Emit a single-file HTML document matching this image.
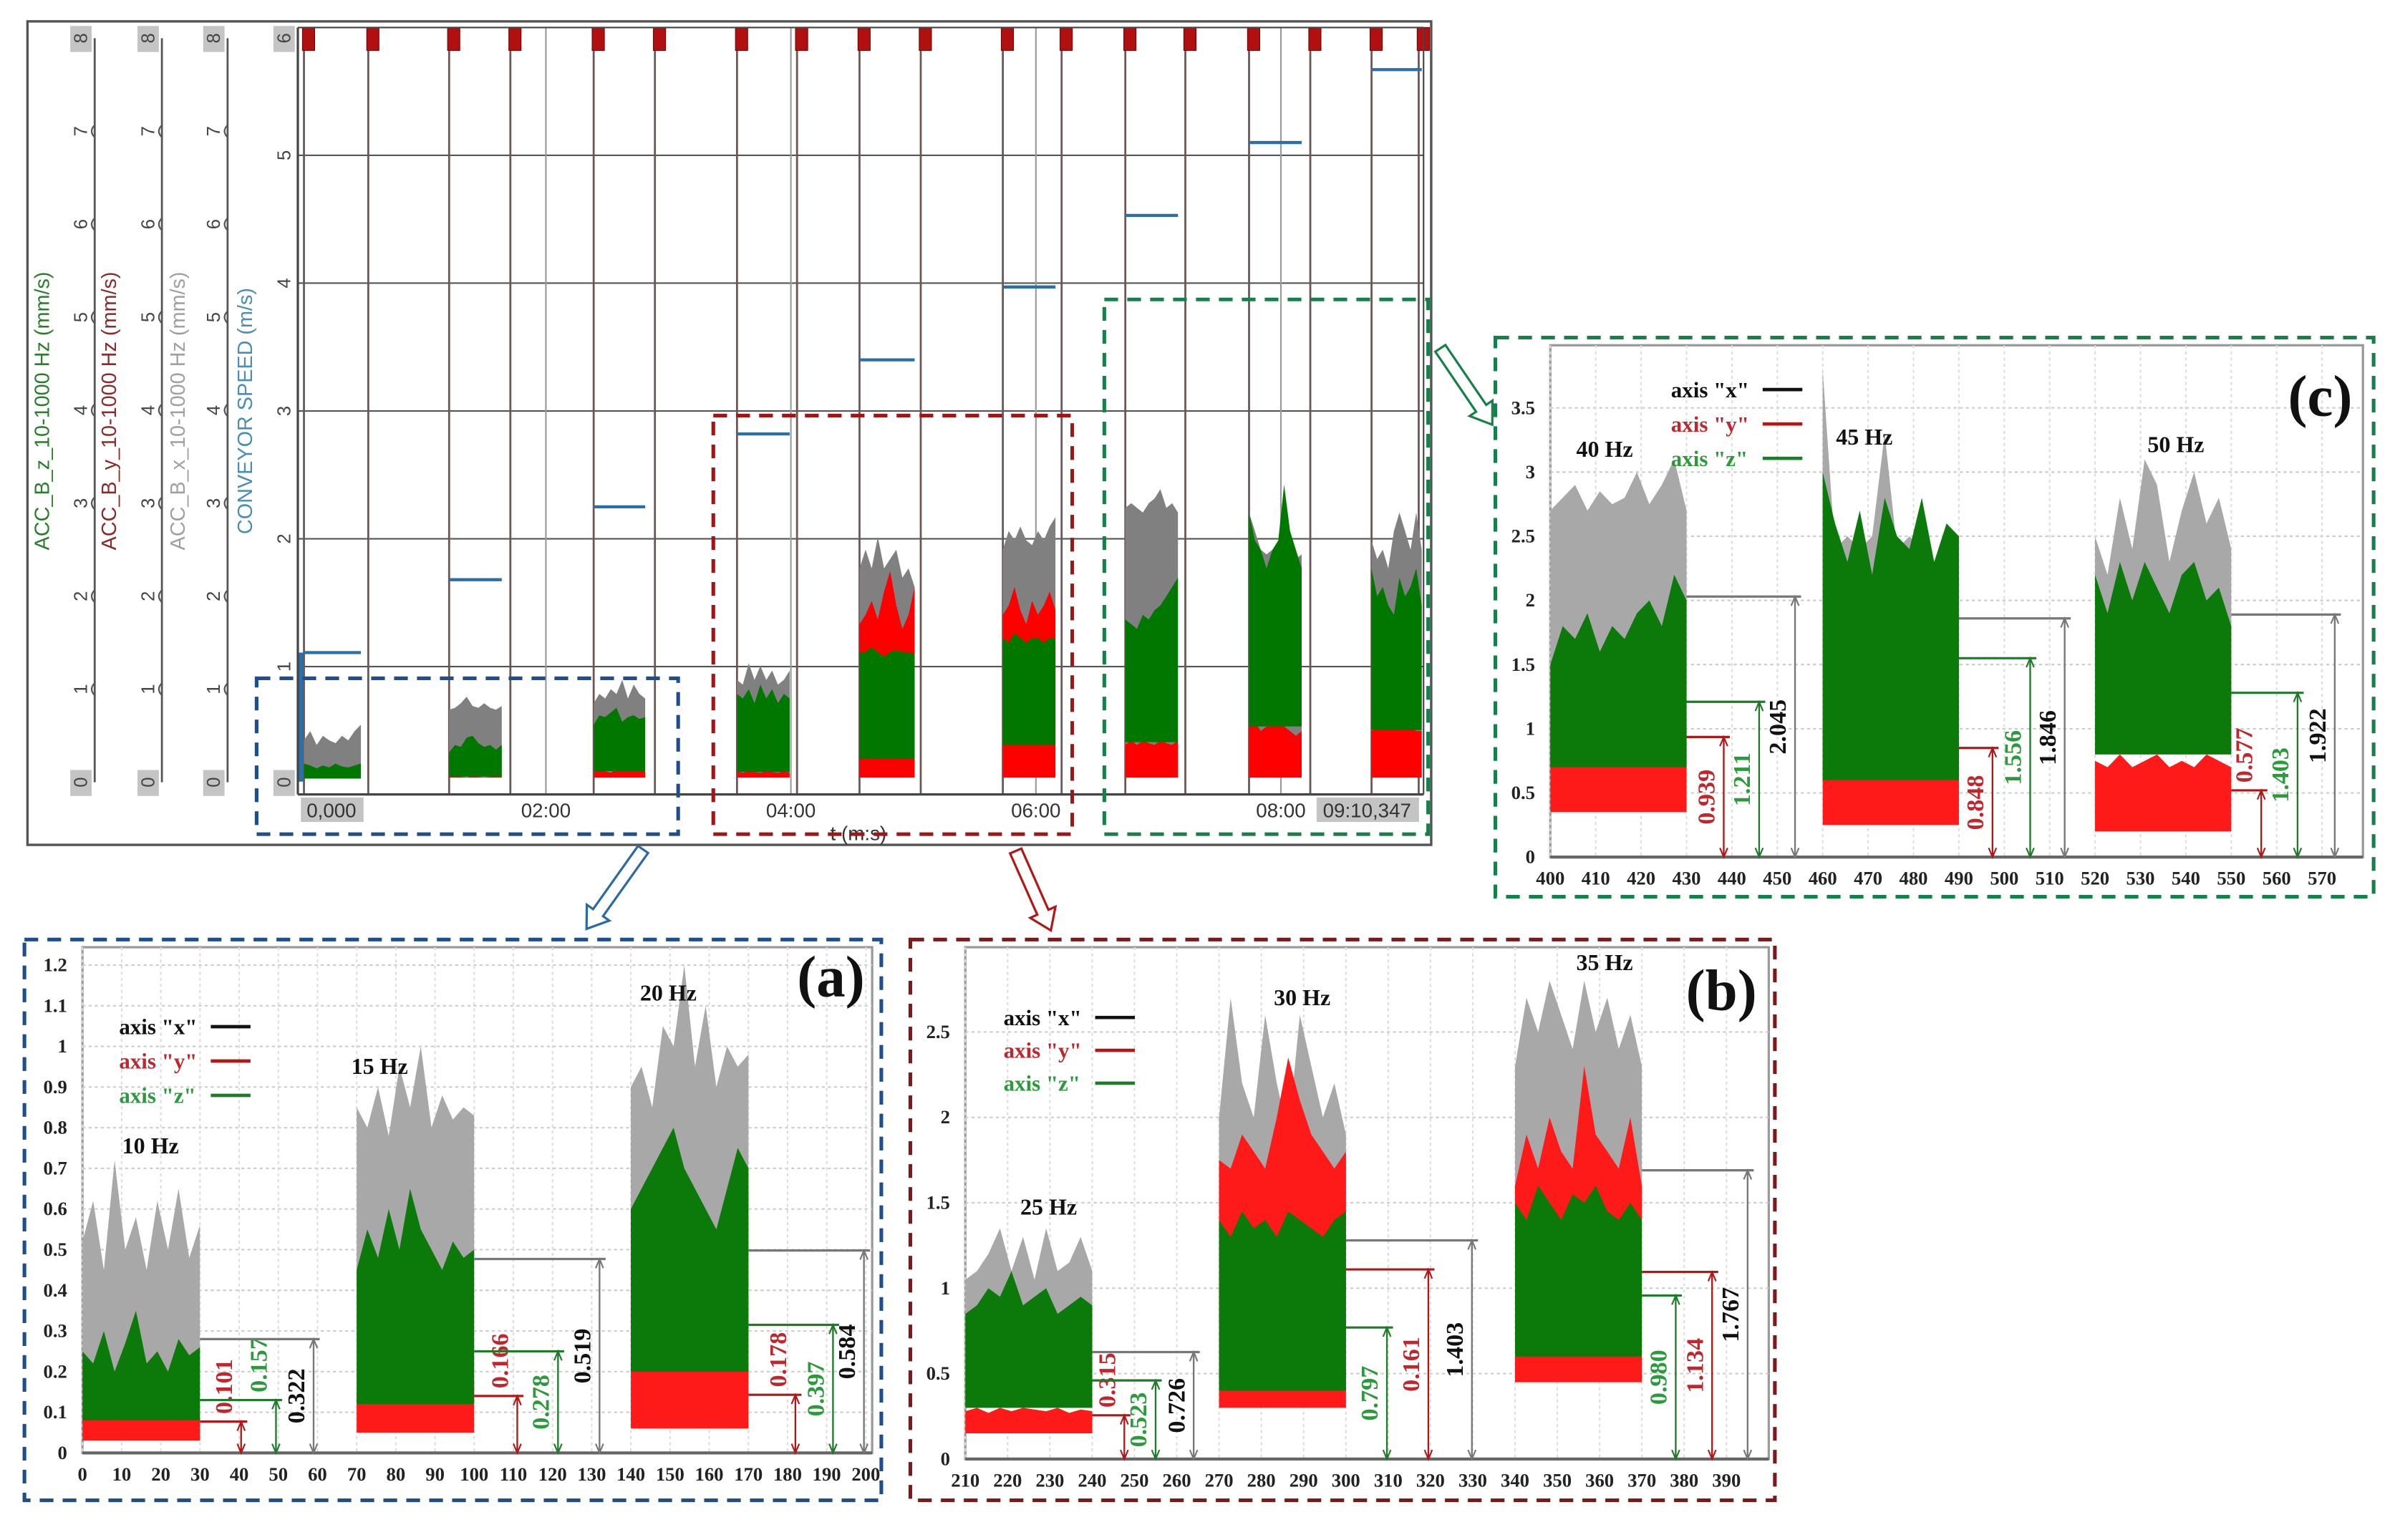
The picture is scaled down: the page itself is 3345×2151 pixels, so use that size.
<!DOCTYPE html>
<html><head><meta charset="utf-8">
<style>
html,body{margin:0;padding:0;background:#fff;}
svg{display:block;}
</style></head>
<body>
<svg id="fig" xmlns="http://www.w3.org/2000/svg" width="3345" height="2151" viewBox="0 0 1568 1008" preserveAspectRatio="none">
<rect x="0" y="0" width="1568" height="1008" fill="#fff"/>
<g id="main"></g>
<g id="pa"></g>
<g id="pb"></g>
<g id="pc"></g>
<g id="arrows"></g>
</svg>
<script>
// ===== MAIN CHART DATA (time in minutes) =====
const mainMarkerTimes = [0.025,0.55,1.21,1.71,2.39,2.89,3.56,4.05,4.56,5.06,5.73,6.21,6.73,7.22,7.74,8.24,8.74,9.125];
const mainSegStart = [0.025,1.21,2.39,3.56,4.56,5.73,6.73,7.74,8.74];
const mainSegEnd   = [0.49,1.64,2.81,3.99,5.01,6.16,7.16,8.17,9.15];
const mainSpeed = [1.11,1.68,2.25,2.82,3.40,3.97,4.53,5.10,5.67];
const mainTimeTicks = [2,4,6,8];
const mainTimeLabels = ["02:00","04:00","06:00","08:00"];
const mainSpeedTicks = [0,1,2,3,4,5,6];
const mainAccTicks = [0,1,2,3,4,5,6,7,8];
const mainXTop = [
 [0.45,0.55,0.4,0.5,0.45,0.42,0.5,0.45,0.55,0.62],
 [0.78,0.8,0.85,0.92,0.82,0.8,0.85,0.8,0.78,0.82],
 [0.85,0.95,0.9,1.0,0.95,1.1,0.9,1.05,0.95,0.9],
 [1.1,1.05,1.28,1.1,1.25,1.1,1.2,1.05,1.1,1.2],
 [2.3,2.5,2.3,2.64,2.3,2.4,2.5,2.2,2.3,2.1],
 [2.5,2.7,2.6,2.75,2.6,2.55,2.7,2.6,2.75,2.85],
 [2.95,3.0,2.95,2.9,3.0,3.05,3.15,2.95,3.0,2.9],
 [2.9,2.7,2.5,2.45,2.5,2.5,2.6,2.45,2.4,2.45],
 [2.6,2.4,2.5,2.3,2.7,2.9,2.7,2.5,2.9,2.5]];
const mainYTop = [
 [0.04,0.05,0.04,0.05,0.04,0.05,0.04,0.05,0.04,0.05],
 [0.06,0.07,0.06,0.05,0.07,0.06,0.05,0.06,0.07,0.06],
 [0.12,0.14,0.12,0.1,0.15,0.12,0.13,0.12,0.14,0.12],
 [0.12,0.1,0.12,0.11,0.1,0.12,0.11,0.1,0.12,0.1],
 [1.7,1.8,1.95,1.75,2.05,2.27,1.9,1.65,1.8,2.1],
 [1.8,1.9,2.1,1.85,1.7,1.95,1.8,1.9,2.05,1.85],
 [0.4,0.45,0.4,0.45,0.42,0.4,0.45,0.42,0.4,0.45],
 [0.6,0.65,0.55,0.6,0.6,0.7,0.6,0.55,0.5,0.55],
 [0.55,0.6,0.58,0.6,0.6,0.58,0.6,0.6,0.55,0.55]];
const mainZTop = [
 [0.2,0.18,0.15,0.18,0.16,0.2,0.17,0.16,0.18,0.2],
 [0.32,0.4,0.38,0.48,0.5,0.42,0.38,0.4,0.35,0.4],
 [0.62,0.72,0.7,0.75,0.8,0.65,0.7,0.72,0.68,0.7],
 [0.95,0.9,1.0,0.85,1.05,0.9,1.0,0.85,0.95,0.9],
 [1.4,1.4,1.45,1.4,1.35,1.4,1.42,1.4,1.4,1.38],
 [1.55,1.5,1.6,1.55,1.5,1.55,1.55,1.5,1.55,1.55],
 [1.75,1.7,1.65,1.8,1.75,1.85,1.9,2.0,2.1,2.2],
 [2.9,2.6,2.5,2.3,2.5,2.6,3.2,2.7,2.5,2.3],
 [2.3,2.0,2.1,1.9,1.8,2.2,2.0,2.1,2.3,1.9]];
const mainZBot = [0.04,0.06,0.12,0.11,0.25,0.4,0.43,0.6,0.56];

// ===== PANEL DATA =====
const aSegStart=[0,70,140], aSegEnd=[30,100,170];
const aXTop=[[0.52,0.62,0.45,0.72,0.5,0.58,0.45,0.62,0.5,0.65,0.48,0.56],[0.85,0.8,0.9,0.78,0.95,0.85,1.0,0.8,0.88,0.82,0.85,0.83],[0.9,0.95,0.85,1.05,1.0,1.2,0.95,1.1,0.9,1.0,0.95,0.98]];
const aZTop=[[0.25,0.22,0.3,0.2,0.27,0.35,0.22,0.25,0.2,0.28,0.24,0.26],[0.45,0.55,0.48,0.6,0.5,0.65,0.55,0.5,0.45,0.52,0.48,0.5],[0.6,0.65,0.7,0.75,0.8,0.7,0.65,0.6,0.55,0.65,0.75,0.7]];
const aYTop=[[0.09,0.08,0.1,0.08,0.09,0.08,0.09,0.1,0.08,0.09,0.08,0.09],[0.15,0.17,0.14,0.16,0.18,0.15,0.14,0.17,0.15,0.16,0.14,0.18],[0.22,0.25,0.2,0.27,0.22,0.24,0.2,0.22,0.23,0.2,0.22,0.22]];
const aZBot=[0.08,0.12,0.2], aYBot=[0.03,0.05,0.06];
const aAnnH=[0.077,0.13,0.28,0.14,0.25,0.477,0.143,0.315,0.498];
const aAnnX=[40.5,49.4,59,111,121.4,132,182,191.6,199.5];
const aAnnAxis=["y","z","x","y","z","x","y","z","x"];
const aAnnLbl=["0.101","0.157","0.322","0.166","0.278","0.519","0.178","0.397","0.584"];
const aYTicks=[0,0.1,0.2,0.3,0.4,0.5,0.6,0.7,0.8,0.9,1,1.1,1.2];
const aXTicks=[0,10,20,30,40,50,60,70,80,90,100,110,120,130,140,150,160,170,180,190,200];
const aFreq=["10 Hz","15 Hz","20 Hz"];

const bSegStart=[210,270,340], bSegEnd=[240,300,370];
const bXTop=[[1.05,1.1,1.2,1.35,1.1,1.3,1.05,1.35,1.1,1.15,1.3,1.1],[2.0,2.7,2.2,2.0,2.6,2.2,1.9,2.6,2.3,2.0,2.2,1.9],[2.3,2.7,2.5,2.8,2.6,2.4,2.8,2.5,2.7,2.4,2.6,2.3]];
const bYTop=[[0.28,0.3,0.27,0.3,0.28,0.3,0.29,0.28,0.3,0.27,0.29,0.28],[1.75,1.7,1.9,1.8,1.7,2.0,2.35,2.1,1.9,1.8,1.7,1.8],[1.6,1.9,1.7,2.0,1.8,1.7,2.3,1.9,1.8,1.7,2.0,1.6]];
const bZTop=[[0.85,0.9,1.0,0.95,1.1,0.9,0.95,1.0,0.85,0.9,0.95,0.9],[1.4,1.3,1.45,1.35,1.4,1.3,1.45,1.4,1.35,1.3,1.4,1.45],[1.5,1.4,1.6,1.5,1.4,1.55,1.5,1.6,1.45,1.4,1.5,1.4]];
const bZBot=[0.3,0.4,0.6], bYBot=[0.15,0.3,0.45];
const bAnnH=[0.256,0.46,0.626,0.77,1.11,1.28,0.957,1.095,1.69];
const bAnnX=[247.6,255,264,309.7,319.5,329.8,378,386.6,395];
const bAnnAxis=["y","z","x","z","y","x","z","y","x"];
const bAnnLbl=["0.315","0.523","0.726","0.797","0.161","1.403","0.980","1.134","1.767"];
const bYTicks=[0,0.5,1,1.5,2,2.5];
const bXTicks=[210,220,230,240,250,260,270,280,290,300,310,320,330,340,350,360,370,380,390];
const bFreq=["25 Hz","30 Hz","35 Hz"];

const cSegStart=[400,460,520], cSegEnd=[430,490,550];
const cXTop=[[2.7,2.8,2.9,2.7,2.85,2.75,2.8,3.0,2.75,2.9,3.1,2.7],[3.8,2.4,2.5,2.4,2.5,3.3,2.4,2.5,2.4,2.3,2.5,2.4],[2.5,2.2,2.8,2.4,3.1,2.9,2.3,2.7,3.0,2.6,2.8,2.4]];
const cZTop=[[1.5,1.8,1.7,1.9,1.6,1.8,1.7,1.9,2.0,1.8,2.2,2.0],[3.0,2.6,2.3,2.7,2.2,2.8,2.5,2.4,2.8,2.3,2.6,2.5],[2.2,1.9,2.3,2.0,2.3,2.1,1.9,2.2,2.3,2.0,2.1,1.8]];
const cYTop=[[1.0,0.9,0.95,0.9,1.0,0.9,0.95,0.9,1.0,0.95,0.9,1.0],[1.0,0.9,1.1,1.0,0.9,1.0,1.1,0.9,1.0,0.95,1.0,0.9],[0.75,0.7,0.8,0.7,0.75,0.8,0.7,0.75,0.7,0.8,0.75,0.7]];
const cZBot=[0.7,0.6,0.8], cYBot=[0.35,0.25,0.2];
const cAnnH=[0.936,1.21,2.03,0.85,1.55,1.86,0.52,1.28,1.89];
const cAnnX=[438.2,446,453.9,497.4,505.7,513.3,556.6,564.6,572.8];
const cAnnAxis=["y","z","x","y","z","x","y","z","x"];
const cAnnLbl=["0.939","1.211","2.045","0.848","1.556","1.846","0.577","1.403","1.922"];
const cYTicks=[0,0.5,1,1.5,2,2.5,3,3.5];
const cXTicks=[400,410,420,430,440,450,460,470,480,490,500,510,520,530,540,550,560,570];
const cFreq=["40 Hz","45 Hz","50 Hz"];

const NS="http://www.w3.org/2000/svg";
function mk(parent,tag,attrs,text){const e=document.createElementNS(NS,tag);for(const k in attrs)e.setAttribute(k,attrs[k]);if(text!==undefined)e.textContent=text;parent.appendChild(e);return e;}
function envPts(xs,xe,top,botV,fx,fy){let p=[];const n=top.length;for(let i=0;i<n;i++){p.push(fx(xs+i*(xe-xs)/(n-1)).toFixed(1)+","+fy(top[i]).toFixed(1));}p.push(fx(xe).toFixed(1)+","+fy(botV).toFixed(1));p.push(fx(xs).toFixed(1)+","+fy(botV).toFixed(1));return p.join(" ");}

// ===== MAIN =====
(function(){
const g=document.getElementById('main');
const xM=t=>197+t*80.2, yS=v=>520-v*83.67, yA=v=>512-v*60.875;
let e=mk(g,'rect',{x:18,y:14,width:919,height:539,fill:'#fff',stroke:'#555','stroke-width':1.6});

// horizontal grid
mainSpeedTicks.forEach(v=>{if(v>0&&v<6){const l=mk(g,'line',{x1:195,x2:932,y1:yS(v),y2:yS(v),stroke:'#555','stroke-width':1});
}});
// time gridlines (light)
mainTimeTicks.forEach(t=>{const l=mk(g,'line',{x1:xM(t),x2:xM(t),y1:18,y2:520,stroke:'#999','stroke-width':1});
});
// marker lines
mainMarkerTimes.forEach(t=>{const l=mk(g,'line',{x1:xM(t),x2:xM(t),y1:18,y2:520,stroke:'#6e5555','stroke-width':1.3});

const r=mk(g,'rect',{x:xM(t)-1,y:18,width:8,height:15,fill:'#b01010',stroke:'#700','stroke-width':0.5});
});
// bands
for(let i=0;i<mainSegStart.length;i++){
 const s=mainSegStart[i],en=mainSegEnd[i];
 let p=mk(g,'polygon',{points:envPts(s,en,mainXTop[i],0.05,xM,yA),fill:'#808080'});
 
 p=mk(g,'polygon',{points:envPts(s,en,mainYTop[i],0.05,xM,yA),fill:'#ff0000'});
 
 p=mk(g,'polygon',{points:envPts(s,en,mainZTop[i],mainZBot[i],xM,yA),fill:'#007800'});
 
 const l=mk(g,'line',{x1:xM(s),x2:xM(en),y1:yS(mainSpeed[i]),y2:yS(mainSpeed[i]),stroke:'#2a6fa8','stroke-width':2});
 
}
const sp=mk(g,'line',{x1:197,x2:197,y1:yS(0.1),y2:yS(1.11),stroke:'#2a6fa8','stroke-width':3});

// plot border
e=mk(g,'line',{x1:195,x2:932,y1:520,y2:520,stroke:'#444','stroke-width':1.5});
e=mk(g,'line',{x1:195,x2:195,y1:18,y2:520,stroke:'#444','stroke-width':1.5});
e=mk(g,'line',{x1:195,x2:932,y1:18,y2:18,stroke:'#444','stroke-width':1});
e=mk(g,'line',{x1:932,x2:932,y1:18,y2:520,stroke:'#444','stroke-width':1});
// acc axes
const axX=[62,106,149];
axX.forEach((ax,k)=>{
 const l=mk(g,'line',{x1:ax,x2:ax,y1:yA(8),y2:yA(0),stroke:'#555','stroke-width':1.3});
 
 mainAccTicks.forEach(v=>{
  const y=yA(v),tx=ax-9;
  if(v===0||v===8){const b=mk(g,'rect',{x:tx-7,y:y-8,width:14,height:17,fill:'#c4c4c4'});}
  else{const t=mk(g,'path',{d:`M${ax} ${y-4} q-4 4 0 8`,stroke:'#555',fill:'none','stroke-width':1});}
  const tt=mk(g,'text',{x:tx+4,y:y,transform:`rotate(-90 ${tx+4} ${y})`,'text-anchor':'middle','font-family':'Liberation Sans, sans-serif','font-size':12,fill:'#444'},String(v));
  
 });
});
mainSpeedTicks.forEach(v=>{
 const y=v===0?yA(0):(v===6?yA(8):yS(v)),tx=186;
 if(v===0||v===6){const b=mk(g,'rect',{x:tx-7,y:y-8,width:14,height:17,fill:'#c4c4c4'});}
 const tt=mk(g,'text',{x:tx+4,y:y,transform:`rotate(-90 ${tx+4} ${y})`,'text-anchor':'middle','font-family':'Liberation Sans, sans-serif','font-size':12,fill:'#444'},String(v));
 
});
const titles=[["ACC_B_z_10-1000 Hz (mm/s)",32,'#2a7d2a','z-axis-title'],["ACC_B_y_10-1000 Hz (mm/s)",76,'#8b2a2a','y-axis-title'],["ACC_B_x_10-1000 Hz (mm/s)",121,'#a0a0a0','x-axis-title'],["CONVEYOR SPEED (m/s)",165,'#4a8eb5','speed-axis-title']];
titles.forEach(t=>{const tt=mk(g,'text',{x:t[1],y:269,transform:`rotate(-90 ${t[1]} 269)`,'text-anchor':'middle','font-family':'Liberation Sans, sans-serif','font-size':13.5,fill:t[2]},t[0]);
 });
// time labels
mainTimeTicks.forEach((t,i)=>{const tt=mk(g,'text',{x:xM(t),y:535,'text-anchor':'middle','font-family':'Liberation Sans, sans-serif','font-size':13,fill:'#333'},mainTimeLabels[i]);
 });
e=mk(g,'rect',{x:197,y:522,width:41,height:16,fill:'#c4c4c4'});
e=mk(g,'text',{x:217,y:535,'text-anchor':'middle','font-family':'Liberation Sans, sans-serif','font-size':13,fill:'#333'},"0,000");
e=mk(g,'rect',{x:862,y:522,width:67,height:16,fill:'#c4c4c4'});
e=mk(g,'text',{x:895,y:535,'text-anchor':'middle','font-family':'Liberation Sans, sans-serif','font-size':13,fill:'#333'},"09:10,347");
e=mk(g,'text',{x:562,y:550,'text-anchor':'middle','font-family':'Liberation Sans, sans-serif','font-size':13,fill:'#333'},"t (m:s)");
// dashed boxes
[[168,444,444,546,'#1f4e8c','zoom-box-a'],[467,272,702,546,'#a01515','zoom-box-b'],[723,196,935,546,'#16804a','zoom-box-c']].forEach(b=>{
 const r=mk(g,'rect',{x:b[0],y:b[1],width:b[2]-b[0],height:b[3]-b[1],fill:'none',stroke:b[4],'stroke-width':2.4,'stroke-dasharray':'9 6'});
 });
})();

// ===== PANELS =====
function panel(id,box,plot,dx,dy,segS,segE,xT,yT,zT,zB,yB,annH,annX,annAxis,annLbl,yTicks,xTicks,freq,freqPos,legPos,letter,letterPos,boxColor,yFmt){
 const g=document.getElementById(id);
 const fx=d=>plot[0]+(d-dx[0])*(plot[2]-plot[0])/(dx[1]-dx[0]);
 const fy=v=>plot[3]-(v-dy[0])*(plot[3]-plot[1])/(dy[1]-dy[0]);
 let e=mk(g,'rect',{x:plot[0],y:plot[1],width:plot[2]-plot[0],height:plot[3]-plot[1],fill:'#fff',stroke:'#999','stroke-width':1.5});
 
 yTicks.forEach(v=>{if(v>0){const l=mk(g,'line',{x1:plot[0],x2:plot[2],y1:fy(v),y2:fy(v),stroke:'#ccc','stroke-width':1,'stroke-dasharray':'2 2'});}
  const t=mk(g,'text',{x:plot[0]-10,y:fy(v)+4,'text-anchor':'end','font-family':'Liberation Serif, serif','font-weight':'bold','font-size':12.5,fill:'#222'},yFmt(v));
  });
 xTicks.forEach(v=>{const l=mk(g,'line',{x1:fx(v),x2:fx(v),y1:plot[1],y2:plot[3],stroke:'#ddd','stroke-width':1,'stroke-dasharray':'2 2'});
  const t=mk(g,'text',{x:fx(v),y:plot[3]+18,'text-anchor':'middle','font-family':'Liberation Serif, serif','font-weight':'bold','font-size':12.5,fill:'#222'},String(v));
  });
 e=mk(g,'line',{x1:plot[0],x2:plot[2],y1:plot[3],y2:plot[3],stroke:'#666','stroke-width':2});
 for(let i=0;i<segS.length;i++){
  let p=mk(g,'polygon',{points:envPts(segS[i],segE[i],xT[i],zB[i],fx,fy),fill:'#a8a8a8'});
  p=mk(g,'polygon',{points:envPts(segS[i],segE[i],yT[i],yB[i],fx,fy),fill:'#ff1a1a'});
  p=mk(g,'polygon',{points:envPts(segS[i],segE[i],zT[i],zB[i],fx,fy),fill:'#0b7a0b'});
  const f=mk(g,'text',{x:freqPos[i][0],y:freqPos[i][1],'font-family':'Liberation Serif, serif','font-weight':'bold','font-size':15,fill:'#111'},freq[i]);
  
 }
 const lineCol={x:'#777',y:'#b01818',z:'#1f7a2a'}, txtCol={x:'#111',y:'#c0272d',z:'#2a9a3a'};
 for(let k=0;k<annH.length;k++){
  const seg=Math.floor(k/3),ax=annAxis[k],X=fx(annX[k]),Y=fy(annH[k]),Y0=fy(0);
  let l=mk(g,'line',{x1:fx(segE[seg]),x2:X+4,y1:Y,y2:Y,stroke:lineCol[ax],'stroke-width':1.5});
  l=mk(g,'line',{x1:X,x2:X,y1:Y,y2:Y0,stroke:lineCol[ax],'stroke-width':1.1});
  l=mk(g,'path',{d:`M${X-2.5} ${Y+6}L${X} ${Y}L${X+2.5} ${Y+6}M${X-2.5} ${Y0-6}L${X} ${Y0}L${X+2.5} ${Y0-6}`,stroke:lineCol[ax],fill:'none','stroke-width':1});
  const halfLen=19, hpx=Y0-Y;
  let cy = hpx/2>halfLen+3 ? (Y+Y0)/2 : Y-halfLen-4;
  const tx=X-6;
  const t=mk(g,'text',{x:tx,y:cy,transform:`rotate(-90 ${tx} ${cy})`,'text-anchor':'middle','font-family':'Liberation Serif, serif','font-weight':'bold','font-size':16,fill:txtCol[ax]},annLbl[k]);
  
 }
 // legend
 const items=[['axis "x"','#111','#111','legend-entry-x'],['axis "y"','#c0272d','#b01818','legend-entry-y'],['axis "z"','#2a9a3a','#1f7a2a','legend-entry-z']];
 items.forEach((it,i)=>{const y=legPos[1]+i*legPos[2];
  const t=mk(g,'text',{x:legPos[0],y:y+5,'font-family':'Liberation Serif, serif','font-weight':'bold','font-size':14.5,fill:it[1]},it[0]);
  const l=mk(g,'line',{x1:legPos[0]+60,x2:legPos[0]+86,y1:y,y2:y,stroke:it[2],'stroke-width':2.2});});
 e=mk(g,'text',{x:letterPos[0],y:letterPos[1],'font-family':'Liberation Serif, serif','font-weight':'bold','font-size':38,fill:'#111','text-anchor':'middle'},letter);
 
 e=mk(g,'rect',{x:box[0],y:box[1],width:box[2]-box[0],height:box[3]-box[1],fill:'none',stroke:boxColor,'stroke-width':2.4,'stroke-dasharray':'9 6'});
 
}
const fmtA=v=>v===0?"0":(Number.isInteger(v)?String(v):v.toFixed(1));
const fmtB=v=>String(v);
panel('pa',[16,615,577,982],[54,620,571,951],[0,201.6],[0,1.244],aSegStart,aSegEnd,aXTop,aYTop,aZTop,aZBot,aYBot,aAnnH,aAnnX,aAnnAxis,aAnnLbl,aYTicks,aXTicks,aFreq,[[80,755],[230,703],[419,655]],[78,672,22.5],"(a)",[544,652],'#1f4e8c',fmtA);
panel('pb',[596,615,1162,982],[632,620,1158,955],[210,400],[0,2.996],bSegStart,bSegEnd,bXTop,bYTop,bZTop,bZBot,bYBot,bAnnH,bAnnX,bAnnAxis,bAnnLbl,bYTicks,bXTicks,bFreq,[[668,795],[834,658],[1032,635]],[657,666,21.5],"(b)",[1127,661],'#7a1a1a',fmtB);
panel('pc',[979,221,1554,587],[1015,226,1547,561],[400,579],[0,3.988],cSegStart,cSegEnd,cXTop,cYTop,cZTop,cZBot,cYBot,cAnnH,cAnnX,cAnnAxis,cAnnLbl,cYTicks,cXTicks,cFreq,[[1032,299],[1202,291],[1406,296]],[1094,255,22.5],"(c)",[1519,272],'#16804a',fmtB);

// ===== HOLLOW ARROWS =====
(function(){
 const g=document.getElementById('arrows');
 function arrow(x1,y1,x2,y2,col,name){
  const dx=x2-x1,dy=y2-y1,L=Math.hypot(dx,dy),ux=dx/L,uy=dy/L,nx=-uy,ny=ux,hw=4,hh=9,hl=13;
  const bx=x2-ux*hl,by=y2-uy*hl;
  const pts=[[x1+nx*hw,y1+ny*hw],[bx+nx*hw,by+ny*hw],[bx+nx*hh,by+ny*hh],[x2,y2],[bx-nx*hh,by-ny*hh],[bx-nx*hw,by-ny*hw],[x1-nx*hw,y1-ny*hw]];
  const p=mk(g,'polygon',{points:pts.map(q=>q[0].toFixed(1)+','+q[1].toFixed(1)).join(' '),fill:'#fff',stroke:col,'stroke-width':1.5});
  
 }
 arrow(421,556,384,608,'#2b6aa0','arrow-to-panel-a');
 arrow(665,557,688,609,'#b01818','arrow-to-panel-b');
 arrow(943,228,977,278,'#16804a','arrow-to-panel-c');
})();
</script>
</body></html>
